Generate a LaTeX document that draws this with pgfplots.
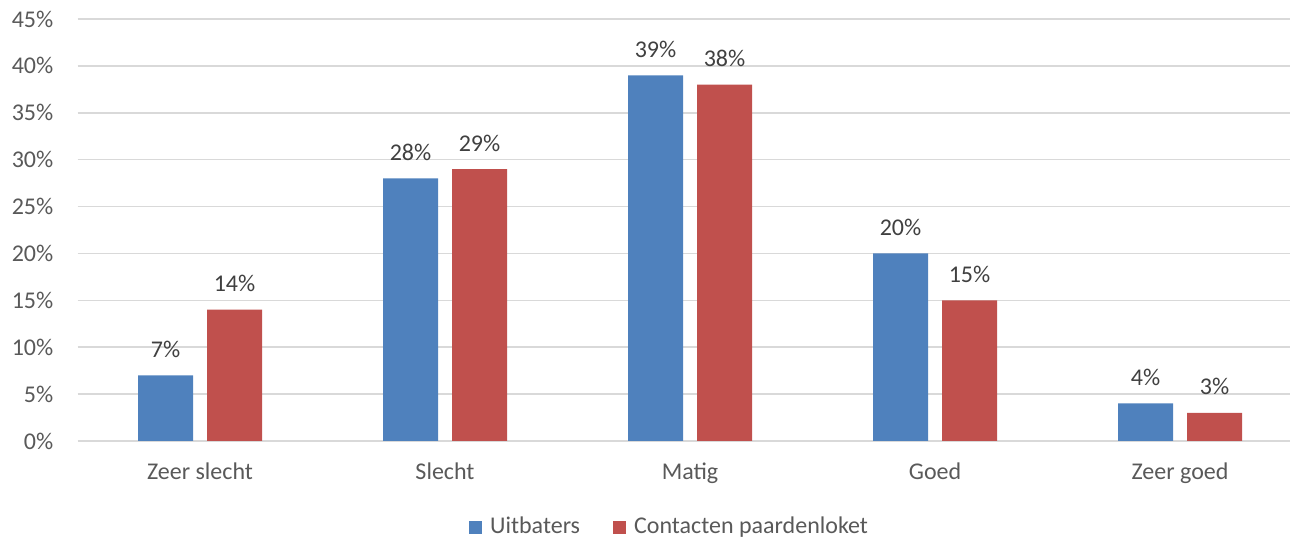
\documentclass[border=0pt]{standalone}
\usepackage{pgfplots}
\pgfplotsset{compat=1.18}
\usepackage{fontspec}
\setmainfont{Carlito}
\definecolor{cblue}{HTML}{4F81BD}
\definecolor{cred}{HTML}{C0504D}
\definecolor{cgrid}{HTML}{D9D9D9}
\definecolor{ctick}{HTML}{595959}
\definecolor{clab}{HTML}{404040}
\begin{document}
\fontsize{24bp}{28bp}\selectfont
\begin{tikzpicture}
\path[use as bounding box] (0,0) rectangle (1290bp,538bp);
\begin{axis}[
  at={(77.5bp,97bp)}, anchor=south west,
  scale only axis,
  width=1212.5bp, height=422bp,
  xmin=-0.5, xmax=4.449,
  ymin=0, ymax=45,
  ytick={0,5,...,45},
  yticklabel={\pgfmathprintnumber{\tick}\%},
  /pgf/number format/assume math mode=true,
  xtick={0,1,2,3,4},
  xticklabels={Zeer slecht,Slecht,Matig,Goed,Zeer goed},
  major tick length=0pt,
  axis line style={draw=none},
  ymajorgrids, grid style={cgrid, line width=1.5bp},
  ticklabel style={font=\fontsize{24bp}{28bp}\selectfont, text=ctick},
  yticklabel style={inner sep=0pt, xshift=-24bp},
  xticklabel style={inner sep=0pt, anchor=base, yshift=-39bp},
  ybar, bar width=55bp,
  nodes near coords={\pgfmathprintnumber{\pgfplotspointmeta}\%},
  nodes near coords style={font=\fontsize{24bp}{28bp}\selectfont, text=clab, anchor=base, inner sep=0pt, yshift=18bp},
  legend columns=2,
  legend style={at={(0.4875,-0.204)}, anchor=center, draw=none, fill=none,
    font=\fontsize{24bp}{28bp}\selectfont, text=ctick,
    nodes={inner sep=0pt},
    /tikz/every odd column/.append style={column sep=8bp},
    /tikz/every even column/.append style={column sep=33bp}},
  legend image code/.code={\fill[#1] (0bp,-6.5bp) rectangle (13bp,6.5bp);},
  clip=false,
]
\addplot[fill=cblue, draw=none, bar shift=-34.5bp] coordinates {(0,7) (1,28) (2,39) (3,20) (4,4)};
\addplot[fill=cred, draw=none, bar shift=34.5bp] coordinates {(0,14) (1,29) (2,38) (3,15) (4,3)};
\legend{Uitbaters, Contacten paardenloket}
\end{axis}
\end{tikzpicture}
\end{document}
